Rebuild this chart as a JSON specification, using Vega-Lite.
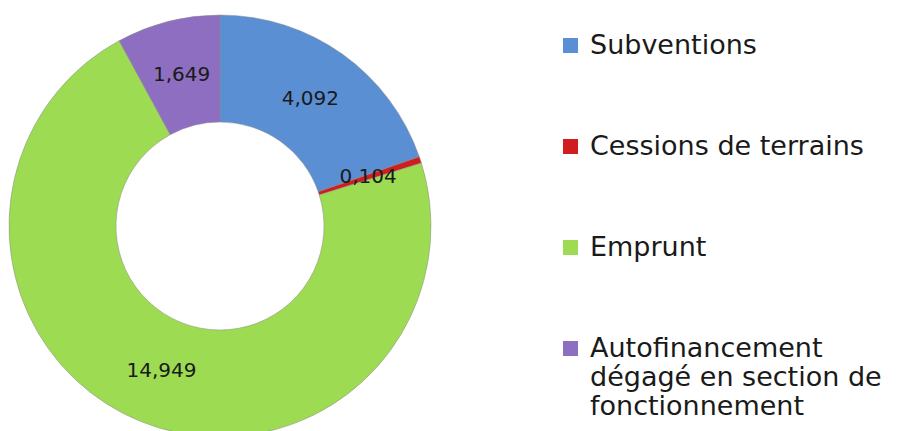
{
  "$schema": "https://vega.github.io/schema/vega-lite/v6.json",
  "width": 918,
  "height": 431,
  "autosize": "none",
  "padding": 0,
  "background": "white",
  "config": {"view": {"stroke": null}},
  "data": {
    "values": [
      {"cat": "Subventions", "val": 4.092, "label": "4,092", "ord": 1},
      {"cat": "Cessions de terrains", "val": 0.104, "label": "0,104", "ord": 2},
      {"cat": "Emprunt", "val": 14.949, "label": "14,949", "ord": 3},
      {"cat": "Autofinancement dégagé en section de fonctionnement", "val": 1.649, "label": "1,649", "ord": 4}
    ]
  },
  "encoding": {
    "theta": {"field": "val", "type": "quantitative", "stack": true},
    "order": {"field": "ord", "type": "quantitative"},
    "x": {"value": 220},
    "y": {"value": 226}
  },
  "layer": [
    {
      "mark": {"type": "arc", "innerRadius": 104, "outerRadius": 211, "stroke": "#8a8a8a", "strokeWidth": 0.5},
      "encoding": {
        "color": {
          "field": "cat",
          "type": "nominal",
          "sort": ["Subventions", "Cessions de terrains", "Emprunt", "Autofinancement dégagé en section de fonctionnement"],
          "scale": {
            "domain": ["Subventions", "Cessions de terrains", "Emprunt", "Autofinancement dégagé en section de fonctionnement"],
            "range": ["#5B8FD3", "#D01E20", "#9CDB52", "#8E6EC0"]
          },
          "legend": {
            "title": null,
            "orient": "none",
            "legendX": 557,
            "legendY": 32,
            "padding": 0,
            "symbolType": "square",
            "symbolSize": 225,
            "symbolStrokeWidth": 0,
            "labelFont": "DejaVu Sans",
            "labelFontSize": 27,
            "labelColor": "#1a1a1a",
            "labelOffset": 6,
            "labelLimit": 400,
            "rowPadding": 73,
            "labelBaseline": "middle",
            "labelExpr": "datum.label == 'Autofinancement dégagé en section de fonctionnement' ? ['Autofinancement', 'dégagé en section de', 'fonctionnement'] : datum.label"
          }
        }
      }
    },
    {
      "mark": {"type": "text", "radius": 156, "font": "DejaVu Sans", "fontSize": 20, "color": "#1a1a1a"},
      "encoding": {
        "text": {"field": "label", "type": "nominal"}
      }
    }
  ]
}
